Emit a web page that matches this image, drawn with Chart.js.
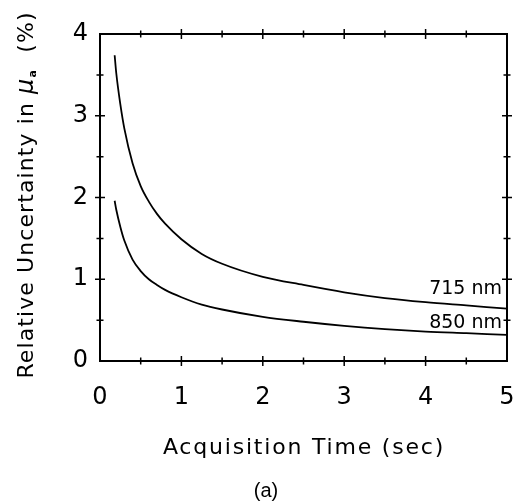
<!DOCTYPE html>
<html>
<head>
<meta charset="utf-8">
<script src="https://cdn.jsdelivr.net/npm/chart.js@4/dist/chart.umd.min.js"></script>
<style>
  html, body { margin: 0; padding: 0; background: #fff; }
  #wrap { width: 516px; height: 503px; }
</style>
</head>
<body>
<div id="wrap"><canvas id="chart" width="516" height="503"></canvas></div>
<script>
// acquisition time (sec) and relative uncertainty (%)
const times = [0.18, 0.2, 0.25, 0.3, 0.4, 0.5, 0.6, 0.7, 0.8, 1, 1.25, 1.5, 2, 2.5, 3, 3.5, 4, 4.5, 5];
const u715 = [3.74, 3.52, 3.14, 2.84, 2.42, 2.14, 1.95, 1.80, 1.68, 1.49, 1.31, 1.19, 1.03, 0.93, 0.84, 0.77, 0.72, 0.68, 0.64];
const u850 = [1.96, 1.85, 1.64, 1.47, 1.24, 1.10, 1.00, 0.93, 0.87, 0.78, 0.69, 0.63, 0.54, 0.48, 0.43, 0.39, 0.36, 0.34, 0.32];
const seriesNames = ['715 nm', '850 nm'];
const labelAt = [0.88, 0.46]; // y value where each curve label sits
const xTicks = [0, 1, 2, 3, 4, 5];
const yTicks = [0, 1, 2, 3, 4];

const FONT = '"DejaVu Sans", sans-serif';

function pts(ys) {
  return times.map((t, i) => ({ x: t, y: ys[i] }));
}

// frame with ticks crossing each side, titles and curve labels
const framePlugin = {
  id: 'frame',
  afterDraw(chart) {
    const ctx = chart.ctx;
    const xs = chart.scales.x, ys = chart.scales.y;
    const L = xs.getPixelForValue(0), R = xs.getPixelForValue(5);
    const T = ys.getPixelForValue(4), B = ys.getPixelForValue(0);
    ctx.save();
    ctx.strokeStyle = '#000';
    ctx.lineWidth = 2;
    ctx.strokeRect(L, T, R - L, B - T);
    ctx.lineWidth = 1.5;
    ctx.beginPath();
    for (let v = 0.5; v < 5; v += 0.5) {
      const p = xs.getPixelForValue(v);
      const h = v % 1 === 0 ? 5 : 3.5;
      ctx.moveTo(p, B - h); ctx.lineTo(p, B + h);
      ctx.moveTo(p, T - h); ctx.lineTo(p, T + h);
    }
    for (let v = 0.5; v < 4; v += 0.5) {
      const p = ys.getPixelForValue(v);
      const h = v % 1 === 0 ? 5 : 3.5;
      ctx.moveTo(L - h, p); ctx.lineTo(L + h, p);
      ctx.moveTo(R - h, p); ctx.lineTo(R + h, p);
    }
    ctx.stroke();

    // curve labels
    ctx.fillStyle = '#000';
    ctx.font = '19px ' + FONT;
    ctx.textAlign = 'right';
    ctx.textBaseline = 'middle';
    seriesNames.forEach((n, i) => {
      ctx.fillText(n, R - 5, ys.getPixelForValue(labelAt[i]));
    });

    // x title
    ctx.font = '22px ' + FONT;
    ctx.letterSpacing = '1.8px';
    ctx.textAlign = 'center';
    ctx.fillText('Acquisition Time (sec)', 304, 448);

    // panel tag
    ctx.letterSpacing = '0px';
    ctx.font = '20px "Liberation Sans", sans-serif';
    ctx.fillText('(a)', 266, 491);

    // y title, rotated, with italic mu and subscript a
    ctx.translate(27, 195);
    ctx.rotate(-Math.PI / 2);
    ctx.letterSpacing = '1.1px';
    const parts = [
      { t: 'Relative Uncertainty in ', f: '22px ' + FONT, dy: 0 },
      { t: 'μ', f: 'italic 24px ' + FONT, dy: 0 },
      { t: 'a', f: 'bold 11px ' + FONT, dy: 6 },
      { t: '  (%)', f: '22px ' + FONT, dy: 0 }
    ];
    let total = 0;
    parts.forEach(p => { ctx.font = p.f; p.w = ctx.measureText(p.t).width; total += p.w; });
    let x = -total / 2;
    ctx.textAlign = 'left';
    parts.forEach(p => {
      ctx.font = p.f;
      ctx.fillText(p.t, x, p.dy);
      x += p.w;
    });
    ctx.restore();
  }
};

new Chart(document.getElementById('chart'), {
  type: 'line',
  data: {
    datasets: [
      { label: seriesNames[0], data: pts(u715) },
      { label: seriesNames[1], data: pts(u850) }
    ]
  },
  options: {
    responsive: false,
    animation: false,
    layout: { padding: { top: 34, right: 9, left: 0, bottom: 0 } },
    elements: {
      line: { borderColor: '#000', borderWidth: 1.8, cubicInterpolationMode: 'monotone', fill: false },
      point: { radius: 0 }
    },
    plugins: { legend: { display: false }, tooltip: { enabled: false } },
    scales: {
      x: {
        type: 'linear', min: 0, max: 5,
        grid: { display: false, drawTicks: false }, border: { display: false },
        afterFit: s => { s.height = 142; s.paddingLeft = 0; s.paddingRight = 0; },
        afterBuildTicks: s => { s.ticks = xTicks.map(v => ({ value: v })); },
        ticks: { color: '#000', padding: 22, font: { family: FONT, size: 24 } }
      },
      y: {
        type: 'linear', min: 0, max: 4,
        grid: { display: false, drawTicks: false }, border: { display: false },
        afterFit: s => { s.width = 100; s.paddingTop = 0; s.paddingBottom = 0; },
        afterBuildTicks: s => { s.ticks = yTicks.map(v => ({ value: v })); },
        ticks: { color: '#000', padding: 12, font: { family: FONT, size: 24 } }
      }
    }
  },
  plugins: [framePlugin]
});
</script>
</body>
</html>
